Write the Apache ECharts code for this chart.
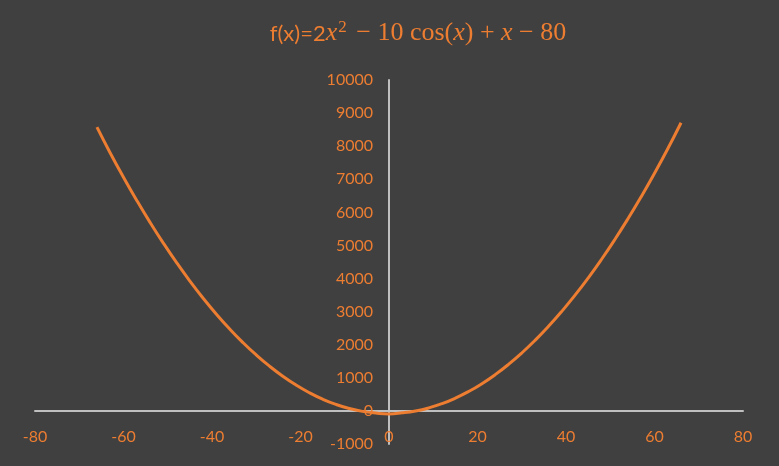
<!DOCTYPE html>
<html><head><meta charset="utf-8">
<script src="https://cdn.jsdelivr.net/npm/echarts@6/dist/echarts.min.js"></script>
<style>html,body{margin:0;padding:0;background:#404040}#c{width:779px;height:466px}</style>
</head><body><div id="c"></div>
<script>
const xValues = [-66,-63,-60,-57,-54,-51,-48,-45,-42,-39,-36,-33,-30,-27,-24,-21,-18,-15,-12,-9,-6,-3,0,3,6,9,12,15,18,21,24,27,30,33,36,39,42,45,48,51,54,57,60,63,66];
const yValues = [8576,7795,7060,6361,5698,5071,4480,3925,3406,2923,2476,2065,1690,1351,1048,781,550,355,196,73,-14,-65,-90,-59,-2,91,220,385,586,823,1096,1405,1750,2131,2548,3001,3490,4015,4576,5173,5806,6475,7180,7921,8708];
const xTicks = {min:-80, max:80, step:20};
const yTicks = {min:-1000, max:10000, step:1000};
const orange = '#ED7D31';
const labelFont = 'Lato, "Liberation Sans", sans-serif';
const mathFont = '"Liberation Serif","DejaVu Serif",serif';
const chart = echarts.init(document.getElementById('c'));
chart.setOption({
  backgroundColor:'#404040',
  animation:false,
  title:{
    text:'{a|f(x)=2}{i|x}{s|2}{m| − 10 cos(}{i|x}{m|) + }{i|x}{m| − 80}',
    left:413, textAlign:'center', top:14,
    textStyle:{fontWeight:'normal',rich:{
      a:{fontFamily:labelFont,fontSize:22,fontWeight:'normal',color:orange},
      i:{fontFamily:mathFont,fontStyle:'italic',fontWeight:'normal',fontSize:26,color:orange},
      s:{fontFamily:mathFont,fontSize:17,fontWeight:'normal',color:orange,verticalAlign:'top',padding:[0,3,12,1]},
      m:{fontFamily:mathFont,fontSize:26,fontWeight:'normal',color:orange}
    }}
  },
  grid:{left:35,right:36,top:80,bottom:22,containLabel:false,outerBoundsMode:'none'},
  xAxis:{type:'value',min:xTicks.min,max:xTicks.max,interval:xTicks.step,
    axisLine:{onZero:true,lineStyle:{color:'#BFBFBF',width:2}},
    axisTick:{show:false},splitLine:{show:false},
    axisLabel:{color:orange,fontFamily:labelFont,fontSize:16,margin:-15,formatter:v=>String(v)}},
  yAxis:{type:'value',min:yTicks.min,max:yTicks.max,interval:yTicks.step,
    axisLine:{show:true,onZero:true,lineStyle:{color:'#BFBFBF',width:2}},
    axisTick:{show:false},splitLine:{show:false},
    axisLabel:{color:orange,fontFamily:labelFont,fontSize:16,margin:-338,formatter:v=>String(v)}},
  series:[{type:'line',data:xValues.map((x,i)=>[x,yValues[i]]),smooth:true,showSymbol:false,
    lineStyle:{color:orange,width:3}}]
});
</script></body></html>
